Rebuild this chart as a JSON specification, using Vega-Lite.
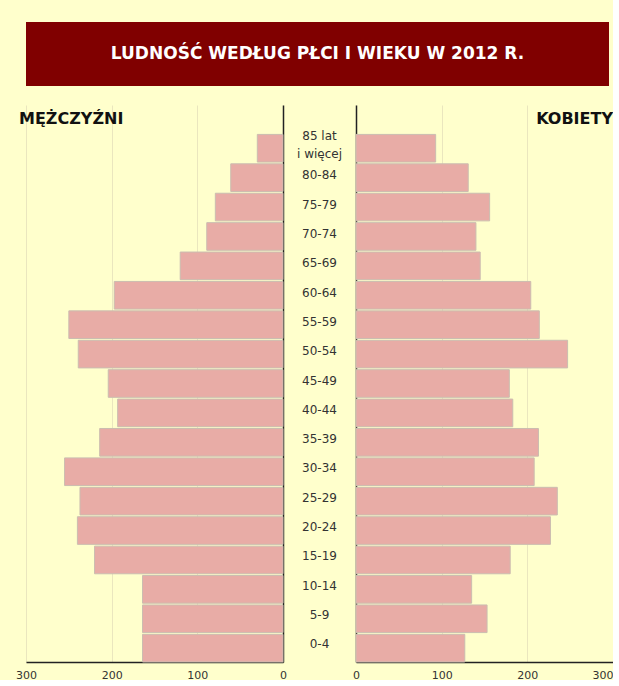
{
  "$schema": "https://vega.github.io/schema/vega-lite/v6.json",
  "background": "#FFFFCC",
  "padding": {"left": 15, "top": 22, "right": 0, "bottom": 0},
  "config": {
    "view": {"stroke": null},
    "font": "DejaVu Sans",
    "axis": {"labelFont": "DejaVu Sans", "labelFlush": false}
  },
  "data": {
    "values": [
      {"wiek": "85 lat\ni więcej", "mezczyzni": 30, "kobiety": 93},
      {"wiek": "80-84", "mezczyzni": 61, "kobiety": 131},
      {"wiek": "75-79", "mezczyzni": 79, "kobiety": 156},
      {"wiek": "70-74", "mezczyzni": 89, "kobiety": 140},
      {"wiek": "65-69", "mezczyzni": 120, "kobiety": 145},
      {"wiek": "60-64", "mezczyzni": 197, "kobiety": 204},
      {"wiek": "55-59", "mezczyzni": 250, "kobiety": 214},
      {"wiek": "50-54", "mezczyzni": 239, "kobiety": 247},
      {"wiek": "45-49", "mezczyzni": 204, "kobiety": 179},
      {"wiek": "40-44", "mezczyzni": 193, "kobiety": 183},
      {"wiek": "35-39", "mezczyzni": 214, "kobiety": 213},
      {"wiek": "30-34", "mezczyzni": 255, "kobiety": 208},
      {"wiek": "25-29", "mezczyzni": 237, "kobiety": 235},
      {"wiek": "20-24", "mezczyzni": 240, "kobiety": 227},
      {"wiek": "15-19", "mezczyzni": 220, "kobiety": 180},
      {"wiek": "10-14", "mezczyzni": 164, "kobiety": 135},
      {"wiek": "5-9", "mezczyzni": 164, "kobiety": 153},
      {"wiek": "0-4", "mezczyzni": 164, "kobiety": 127}
    ]
  },
  "spacing": 19,
  "vconcat": [
    {
      "width": 583,
      "height": 64,
      "view": {"fill": "#800000", "stroke": null},
      "data": {"values": [{"tytul": "LUDNOŚĆ WEDŁUG PŁCI I WIEKU W 2012 R."}]},
      "mark": {"type": "text", "color": "#FFFFFF", "fontSize": 17, "fontWeight": "bold", "baseline": "middle", "font": "DejaVu Sans"},
      "encoding": {"text": {"field": "tytul", "type": "nominal"}}
    },
    {
      "spacing": 0,
      "bounds": "flush",
      "hconcat": [
        {
          "width": 257,
          "height": 557,
          "layer": [
            {
              "mark": {"type": "bar", "fill": "#E8ACA6", "stroke": "#CBBDB0", "strokeWidth": 1},
              "encoding": {
                "y": {
                  "field": "wiek", "type": "nominal",
                  "scale": {"domain": [" ", "85 lat\ni więcej", "80-84", "75-79", "70-74", "65-69", "60-64", "55-59", "50-54", "45-49", "40-44", "35-39", "30-34", "25-29", "20-24", "15-19", "10-14", "5-9", "0-4"], "paddingInner": 0.06, "paddingOuter": 0},
                  "axis": {"orient": "right", "labels": false, "ticks": false, "title": null, "domainColor": "#222222", "domainWidth": 1.5}
                },
                "x": {
                  "field": "mezczyzni", "type": "quantitative",
                  "scale": {"domain": [0, 300], "reverse": true, "nice": false},
                  "axis": {"values": [0, 100, 200, 300], "grid": true, "gridColor": "#EAE6BE", "title": null, "ticks": false, "labelPadding": 7, "domainColor": "#222222", "domainWidth": 1.5, "labelFontSize": 11, "labelColor": "#333333", "labelFlush": false}
                }
              }
            },
            {
              "data": {"values": [{"etykieta": "MĘŻCZYŹNI"}]},
              "mark": {"type": "text", "align": "left", "dx": -7, "fontWeight": "bold", "fontSize": 16, "color": "#111111", "baseline": "middle", "font": "DejaVu Sans"},
              "encoding": {
                "x": {"datum": 300, "type": "quantitative"},
                "y": {"datum": " ", "type": "nominal"},
                "text": {"field": "etykieta", "type": "nominal"}
              }
            }
          ]
        },
        {
          "width": 73,
          "height": 557,
          "mark": {"type": "text", "fontSize": 12, "color": "#333333", "lineBreak": "\n", "lineHeight": 18, "dy": {"expr": "indexof(datum.wiek, 'lat') >= 0 ? -13 : -3"}, "baseline": "middle", "font": "DejaVu Sans"},
          "encoding": {
            "y": {
              "field": "wiek", "type": "nominal",
              "scale": {"domain": [" ", "85 lat\ni więcej", "80-84", "75-79", "70-74", "65-69", "60-64", "55-59", "50-54", "45-49", "40-44", "35-39", "30-34", "25-29", "20-24", "15-19", "10-14", "5-9", "0-4"], "paddingInner": 0.06, "paddingOuter": 0},
              "axis": null
            },
            "text": {"field": "wiek", "type": "nominal"}
          }
        },
        {
          "width": 257,
          "height": 557,
          "layer": [
            {
              "mark": {"type": "bar", "fill": "#E8ACA6", "stroke": "#CBBDB0", "strokeWidth": 1},
              "encoding": {
                "y": {
                  "field": "wiek", "type": "nominal",
                  "scale": {"domain": [" ", "85 lat\ni więcej", "80-84", "75-79", "70-74", "65-69", "60-64", "55-59", "50-54", "45-49", "40-44", "35-39", "30-34", "25-29", "20-24", "15-19", "10-14", "5-9", "0-4"], "paddingInner": 0.06, "paddingOuter": 0},
                  "axis": {"orient": "left", "labels": false, "ticks": false, "title": null, "domainColor": "#222222", "domainWidth": 1.5}
                },
                "x": {
                  "field": "kobiety", "type": "quantitative",
                  "scale": {"domain": [0, 300], "nice": false},
                  "axis": {"values": [0, 100, 200, 300], "grid": true, "gridColor": "#EAE6BE", "title": null, "ticks": false, "labelPadding": 7, "domainColor": "#222222", "domainWidth": 1.5, "labelFontSize": 11, "labelColor": "#333333", "labelFlush": false, "labelAlign": {"condition": {"test": "datum.value == 300", "value": "right"}, "value": "center"}}
                }
              }
            },
            {
              "data": {"values": [{"etykieta": "KOBIETY"}]},
              "mark": {"type": "text", "align": "right", "fontWeight": "bold", "fontSize": 16, "color": "#111111", "baseline": "middle", "font": "DejaVu Sans"},
              "encoding": {
                "x": {"datum": 300, "type": "quantitative"},
                "y": {"datum": " ", "type": "nominal"},
                "text": {"field": "etykieta", "type": "nominal"}
              }
            }
          ]
        }
      ]
    }
  ]
}
